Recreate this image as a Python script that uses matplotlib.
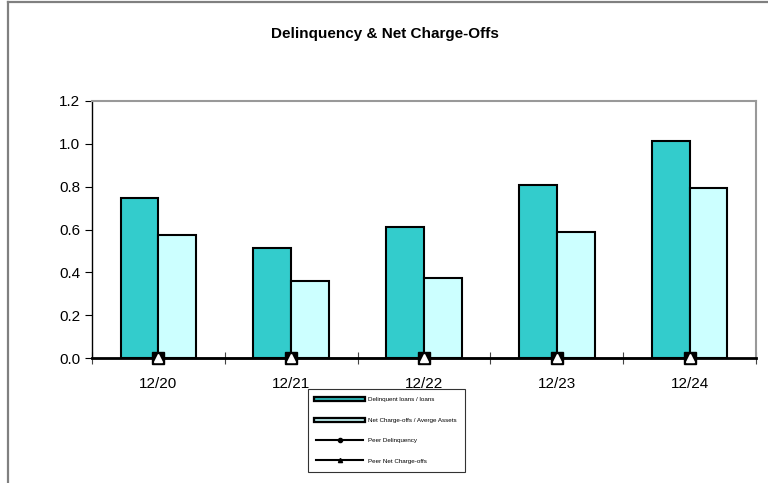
import numpy as np
import matplotlib.pyplot as plt
from matplotlib.lines import Line2D
from matplotlib.legend_handler import HandlerTuple

plt.rcParams['font.family'] = ['Liberation Sans', 'DejaVu Sans']

########## Data ##########
periods = ['12/20', '12/21', '12/22', '12/23', '12/24']
delinquent = [0.745, 0.515, 0.61, 0.81, 1.015]
charge_offs = [0.575, 0.36, 0.372, 0.59, 0.793]
peer_delinquency = [0, 0, 0, 0, 0]
peer_charge_offs = [0, 0, 0, 0, 0]

dark = '#33CCCC'
light = '#CCFFFF'

fig = plt.figure(figsize=(7.68, 4.83), dpi=100)
ax = fig.add_axes([92 / 768, 1 - 358 / 483, (756 - 92) / 768, (358 - 101) / 483])

x = np.arange(len(periods))
w = 0.285
ax.bar(x - w / 2, delinquent, w, color=dark, edgecolor='black', linewidth=1.5, zorder=2)
ax.bar(x + w / 2, charge_offs, w, color=light, edgecolor='black', linewidth=1.5, zorder=2)

# peer lines sit at zero
ax.plot(x, peer_delinquency, color='black', lw=1, marker='s', ms=9,
        mfc='black', mec='black', zorder=4, clip_on=False)
ax.plot(x, peer_charge_offs, color='black', lw=1, marker='^', ms=6,
        mfc='white', mec='white', zorder=5, clip_on=False)

ax.set_xlim(-0.5, 4.5)
ax.set_ylim(0, 1.2)
ax.set_yticks(np.arange(0, 1.21, 0.2))
ax.set_yticklabels(['%.1f' % v for v in np.arange(0, 1.21, 0.2)], fontsize=11)
ax.set_xticks(x)
ax.set_xticklabels(periods, fontsize=11)
ax.set_xticks(np.arange(-0.5, 5, 1), minor=True)
ax.tick_params(axis='x', which='major', length=0, pad=14)
ax.tick_params(axis='x', which='minor', direction='inout', length=9, width=0.8, color='#444444')
ax.tick_params(axis='y', direction='out', length=5, width=0.8)

ax.spines['top'].set_color('#999999')
ax.spines['right'].set_color('#999999')
ax.spines['top'].set_linewidth(1.5)
ax.spines['right'].set_linewidth(1.5)
ax.spines['left'].set_linewidth(1.0)
ax.spines['bottom'].set_linewidth(2.0)
ax.spines['bottom'].set_zorder(3)

fig.text(385 / 768, 1 - 34 / 483, 'Delinquency & Net Charge-Offs', ha='center', va='center',
         fontsize=11, fontweight='bold')

# outer frame (only top and left visible)
fig.add_artist(Line2D([8 / 768, 8 / 768], [0, 1 - 2 / 483], color='#808080', lw=1.6))
fig.add_artist(Line2D([8 / 768, 1], [1 - 2 / 483, 1 - 2 / 483], color='#808080', lw=1.6))

handles = [
    (Line2D([], [], color='black', lw=4.5), Line2D([], [], color=dark, lw=1.2)),
    (Line2D([], [], color='black', lw=4.5), Line2D([], [], color=light, lw=1.2)),
    Line2D([], [], color='black', lw=1.5, marker='o', ms=3),
    Line2D([], [], color='black', lw=1.5, marker='^', ms=3),
]
labels = ['Delinquent loans / loans', 'Net Charge-offs / Averge Assets',
          'Peer Delinquency', 'Peer Net Charge-offs']
leg = fig.legend(handles, labels, loc='upper left', bbox_to_anchor=(308 / 768, 1 - 389 / 483),
                 borderaxespad=0, fontsize=4.5, frameon=True, fancybox=False, edgecolor='black',
                 handlelength=7.5, handletextpad=0.8, labelspacing=2.4, borderpad=1.3,
                 handler_map={tuple: HandlerTuple(ndivide=1)})
leg.get_frame().set_linewidth(0.8)

fig.savefig('out.png', dpi=100)
